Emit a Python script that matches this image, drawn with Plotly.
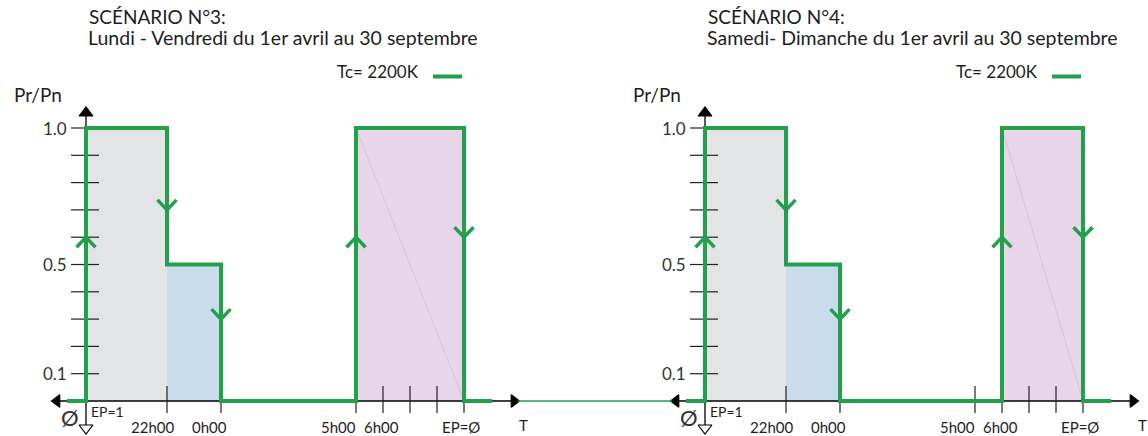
import plotly.graph_objects as go

# ------------------------------------------------------------------ data
hour_ticks = [-2, 0, 5, 6, 7, 8, 9]                 # hours relative to 0h00
hour_tick_text = ["22h00", "0h00", "5h00", "6h00", "", "", "EP=Ø"]
level_ticks = [0.1, 0.2, 0.3, 0.4, 0.5, 0.6, 0.7, 0.8, 0.9, 1.0]
level_tick_text = ["0.1", "", "", "", "0.5", "", "", "", "", "1.0"]

# scenario 3 : Lundi - Vendredi
s3_times = [-5, -2, 0, 5, 9]        # EP=1, 22h00, 0h00, 5h00, EP=Ø
s3_levels = [1.0, 0.5, 0.0, 1.0, 0.0]
s3_chevrons = [0.6, 0.7, 0.3, 0.6, 0.6]

# scenario 4 : Samedi - Dimanche
s4_times = [-5, -2, 0, 6, 9]        # EP=1, 22h00, 0h00, 6h00, EP=Ø
s4_levels = [1.0, 0.5, 0.0, 1.0, 0.0]
s4_chevrons = [0.6, 0.7, 0.3, 0.6, 0.6]

titles = [("SCÉNARIO N°3:", "Lundi - Vendredi du 1er avril au 30 septembre"),
          ("SCÉNARIO N°4:", "Samedi- Dimanche du 1er avril au 30 septembre")]
legend_text = "Tc= 2200K"

# ------------------------------------------------------------------ style / geometry
W, H = 1148, 436
PX_H = 27.0            # pixels per hour
Y0_PX, PX_U = 401.0, 273.0
ORIGIN_PX = {"x": 221.0, "x2": 840.0}
DOMAINS = {"x": [0.0, 0.5], "x2": [0.5, 1.0]}
GREEN = "#22a04c"
SEG_COLORS = ["#e3e4e6", "#c9dcec", None, "#e9d5e9"]
FONT = "Lato, 'Open Sans', sans-serif"
TXT = "#1e1e1e"
LABEL_DX = [-15, -11.5, -18, -2, 0, 0, -3]   # px shift of hour labels


def hx(px):
    return px / PX_H


def yv(py):
    return (Y0_PX - py) / PX_U


fig = go.Figure()
annotations = []


def add_line(xa, xs, ys, color, width, shape="linear"):
    fig.add_trace(go.Scatter(x=xs, y=ys, xaxis=xa, yaxis="y", mode="lines",
                             line=dict(color=color, width=width, shape=shape),
                             hoverinfo="skip"))


def add_marker(xa, x, y, symbol, size, fill, edge="#000"):
    fig.add_trace(go.Scatter(x=[x], y=[y], xaxis=xa, yaxis="y", mode="markers",
                             marker=dict(symbol=symbol, size=size, color=fill,
                                         line=dict(color=edge, width=1.2)),
                             hoverinfo="skip"))


def ann(xa, x, y, text, size, xanchor="center", color=TXT):
    annotations.append(dict(xref=xa, yref="y", x=x, y=y, text=text,
                            showarrow=False, xanchor=xanchor, yanchor="middle",
                            font=dict(family=FONT, size=size, color=color)))


def panel(xa, times, levels, chevrons, title):
    ax_t = times[0]
    # coloured areas
    for i in range(len(times) - 1):
        c = SEG_COLORS[i]
        if c is None:
            continue
        t0, t1, lv = times[i], times[i + 1], levels[i]
        fig.add_trace(go.Scatter(x=[t0, t1, t1, t0, t0], y=[0, 0, lv, lv, 0],
                                 xaxis=xa, yaxis="y", mode="lines", fill="toself",
                                 fillcolor=c, line=dict(width=0), hoverinfo="skip"))
    # faint diagonal in the last block
    add_line(xa, [times[3], times[4]], [levels[3], 0], "#d9c2d9", 1)

    # x axis + arrows
    add_line(xa, [ax_t - hx(30), hx(295)], [0, 0], "#000", 1.3)
    add_marker(xa, ax_t - hx(29), 0, "triangle-left", 11, "#000")
    add_marker(xa, hx(293), 0, "triangle-right", 11, "#000")
    # y axis + arrows
    add_line(xa, [ax_t, ax_t], [yv(431), yv(112)], "#000", 1.3)
    add_marker(xa, ax_t, yv(113), "triangle-up", 12, "#000")
    add_marker(xa, ax_t, yv(428), "triangle-down", 12, "#fff")

    # y ticks
    xs, ys = [], []
    for lv in level_ticks:
        xs += [ax_t - hx(15), ax_t + hx(13), None]
        ys += [lv, lv, None]
    add_line(xa, xs, ys, "#222", 1.2)
    # x ticks
    xs, ys = [], []
    for t in hour_ticks:
        xs += [t, t, None]
        ys += [yv(386), yv(413), None]
    add_line(xa, xs, ys, "#222", 1.2)

    # green step profile
    sx = [ax_t - hx(19)] + times + [times[-1] + hx(28)]
    sy = [0] + levels + [0]
    add_line(xa, sx, sy, GREEN, 4, shape="hv")

    # direction chevrons
    prev = 0
    dx, dy = hx(9.5), 10 / PX_U
    for t, lv, c in zip(times, levels, chevrons):
        d = 1 if lv > prev else -1
        add_line(xa, [t - dx, t, t + dx], [c - d * dy, c, c - d * dy], GREEN, 3.5)
        prev = lv

    # labels
    for lv, txt in zip(level_ticks, level_tick_text):
        if txt:
            ann(xa, ax_t - hx(17), lv, txt, 17, xanchor="right", color="#333")
    for t, txt, d in zip(hour_ticks, hour_tick_text, LABEL_DX):
        if txt:
            ann(xa, t + hx(d), yv(427), txt, 15)
    ann(xa, ax_t + hx(21), yv(411), "EP=1", 14)
    ann(xa, ax_t - hx(16), yv(417), "Ø", 22, color="#333")
    ann(xa, hx(302), yv(425), "T", 15)
    ann(xa, ax_t - hx(48), yv(94), "Pr/Pn", 19)
    ann(xa, hx(200), yv(71), legend_text, 17, xanchor="right")
    add_line(xa, [hx(212), hx(241)], [yv(76.5), yv(76.5)], GREEN, 4)
    ann(xa, ax_t + hx(1), yv(16), title[0], 19, xanchor="left")
    ann(xa, ax_t, yv(37), title[1], 19.5, xanchor="left")


panel("x", s3_times, s3_levels, s3_chevrons, titles[0])
panel("x2", s4_times, s4_levels, s4_chevrons, titles[1])

# thin green link between the two time axes
left_tip = (ORIGIN_PX["x"] + 297) / W
right_tip = (ORIGIN_PX["x2"] + (s4_times[0] * PX_H) - 33) / W
shapes = [dict(type="line", xref="paper", yref="y", x0=left_tip, x1=right_tip,
               y0=0, y1=0, line=dict(color=GREEN, width=1.3))]


def xrange(key):
    d0, d1 = DOMAINS[key]
    o = ORIGIN_PX[key]
    return [hx(d0 * W - o), hx(d1 * W - o)]


fig.update_layout(
    width=W, height=H, margin=dict(l=0, r=0, t=0, b=0),
    paper_bgcolor="white", plot_bgcolor="white", showlegend=False,
    xaxis=dict(domain=DOMAINS["x"], range=xrange("x"), visible=False, fixedrange=True),
    xaxis2=dict(domain=DOMAINS["x2"], range=xrange("x2"), anchor="y",
                visible=False, fixedrange=True),
    yaxis=dict(domain=[0, 1], range=[yv(H), yv(0)], visible=False, fixedrange=True),
    annotations=annotations, shapes=shapes,
)

fig.write_html("out.html", config={"displayModeBar": False},
               post_script="document.body.style.margin='0';"
                           "document.body.style.overflow='hidden';")
